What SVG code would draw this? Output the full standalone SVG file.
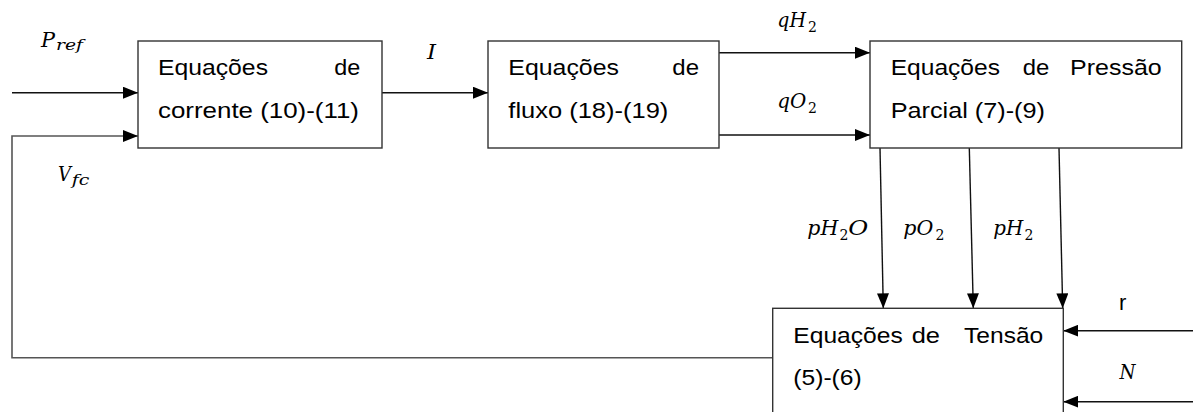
<svg xmlns="http://www.w3.org/2000/svg" width="1193" height="412" viewBox="0 0 1193 412">
<style>
.box{fill:#fff;stroke:#333;stroke-width:1.4}
.ln{fill:none;stroke:#111;stroke-width:1.4}
.t{font-family:"Liberation Sans",Arial,sans-serif;font-size:22px;fill:#000}
.m{font-family:"DejaVu Serif","Liberation Serif",serif;font-style:italic;font-size:20px;fill:#000}
.s{font-family:"DejaVu Serif","Liberation Serif",serif;font-size:14px;fill:#000}
.si{font-family:"DejaVu Serif","Liberation Serif",serif;font-style:italic;font-size:15px;fill:#000}
</style>
<defs>
<marker id="ah" viewBox="0 0 15 12" refX="15" refY="6" markerWidth="15" markerHeight="12" markerUnits="userSpaceOnUse" orient="auto">
<path d="M0,0 L15,6 L0,12 Z" fill="#000"/>
</marker>
</defs>
<rect width="1193" height="412" fill="#fff"/>
<g id="connectors">
<line class="ln" x1="12" y1="92.7" x2="138" y2="92.7" marker-end="url(#ah)"/>
<polyline class="ln" points="772.7,357.7 12,357.7 12,136 138,136" marker-end="url(#ah)" style="stroke:#555;stroke-width:1.6"/>
<line class="ln" x1="382" y1="92.7" x2="488" y2="92.7" marker-end="url(#ah)"/>
<line class="ln" x1="719" y1="52.7" x2="870" y2="52.7" marker-end="url(#ah)"/>
<line class="ln" x1="719" y1="135" x2="870" y2="135" marker-end="url(#ah)"/>
<line class="ln" x1="880" y1="148" x2="883.3" y2="308.3" marker-end="url(#ah)"/>
<line class="ln" x1="969.3" y1="148" x2="973.3" y2="308.3" marker-end="url(#ah)"/>
<line class="ln" x1="1059" y1="148" x2="1062.7" y2="308.3" marker-end="url(#ah)"/>
<line class="ln" x1="1193" y1="330.7" x2="1063.3" y2="330.7" marker-end="url(#ah)"/>
<line class="ln" x1="1193" y1="401.7" x2="1063.3" y2="401.7" marker-end="url(#ah)"/>
</g>
<g id="labels">
<text class="m" x="41" y="46.7" textLength="14" lengthAdjust="spacingAndGlyphs">P</text>
<text class="si" x="56" y="50" textLength="27" lengthAdjust="spacingAndGlyphs">ref</text>
<text class="m" x="58" y="180.7" textLength="13" lengthAdjust="spacingAndGlyphs">V</text>
<text class="si" x="71.7" y="185" textLength="17.6" lengthAdjust="spacingAndGlyphs">fc</text>
<text class="m" x="427" y="59.3" textLength="9" lengthAdjust="spacingAndGlyphs">I</text>
<text class="m" x="777.3" y="27" textLength="28.7" lengthAdjust="spacingAndGlyphs">qH</text>
<text class="s" x="808" y="32">2</text>
<text class="m" x="777.3" y="108.3" textLength="29" lengthAdjust="spacingAndGlyphs">qO</text>
<text class="s" x="808" y="113">2</text>
<text class="m" x="807.3" y="235" textLength="31" lengthAdjust="spacingAndGlyphs">pH</text>
<text class="s" x="839.5" y="240">2</text>
<text class="m" x="848.3" y="235" textLength="20" lengthAdjust="spacingAndGlyphs">O</text>
<text class="m" x="903.3" y="235" textLength="30" lengthAdjust="spacingAndGlyphs">pO</text>
<text class="s" x="935.5" y="240">2</text>
<text class="m" x="993.3" y="235" textLength="30" lengthAdjust="spacingAndGlyphs">pH</text>
<text class="s" x="1024.5" y="240">2</text>
<text class="t" x="1119" y="310">r</text>
<text class="m" x="1119.5" y="379" textLength="16" lengthAdjust="spacingAndGlyphs">N</text>
</g>
<g id="node-corrente">
<rect class="box" x="138" y="41" width="244" height="107"/>
<text class="t" x="158" y="75" textLength="110" lengthAdjust="spacingAndGlyphs">Equações</text>
<text class="t" x="334.3" y="75" textLength="26" lengthAdjust="spacingAndGlyphs">de</text>
<text class="t" x="158" y="118.3" textLength="201" lengthAdjust="spacingAndGlyphs">corrente (10)-(11)</text>
</g>
<g id="node-fluxo">
<rect class="box" x="488" y="41" width="231" height="107"/>
<text class="t" x="508.3" y="75" textLength="110.7" lengthAdjust="spacingAndGlyphs">Equações</text>
<text class="t" x="672.3" y="75" textLength="26.7" lengthAdjust="spacingAndGlyphs">de</text>
<text class="t" x="508.3" y="118.3" textLength="160" lengthAdjust="spacingAndGlyphs">fluxo (18)-(19)</text>
</g>
<g id="node-pressao">
<rect class="box" x="870" y="41" width="311.7" height="107"/>
<text class="t" x="890.7" y="75" textLength="109.3" lengthAdjust="spacingAndGlyphs">Equações</text>
<text class="t" x="1022.7" y="75" textLength="26.6" lengthAdjust="spacingAndGlyphs">de</text>
<text class="t" x="1070" y="75" textLength="91.7" lengthAdjust="spacingAndGlyphs">Pressão</text>
<text class="t" x="890.7" y="118.3" textLength="154.3" lengthAdjust="spacingAndGlyphs">Parcial (7)-(9)</text>
</g>
<g id="node-tensao">
<rect class="box" x="772.7" y="308.3" width="290.6" height="120"/>
<text class="t" x="793.3" y="343.3" textLength="109.4" lengthAdjust="spacingAndGlyphs">Equações</text>
<text class="t" x="911.7" y="343.3" textLength="28.3" lengthAdjust="spacingAndGlyphs">de</text>
<text class="t" x="964" y="343.3" textLength="79.3" lengthAdjust="spacingAndGlyphs">Tensão</text>
<text class="t" x="793.3" y="385" textLength="68.4" lengthAdjust="spacingAndGlyphs">(5)-(6)</text>
</g>
</svg>
